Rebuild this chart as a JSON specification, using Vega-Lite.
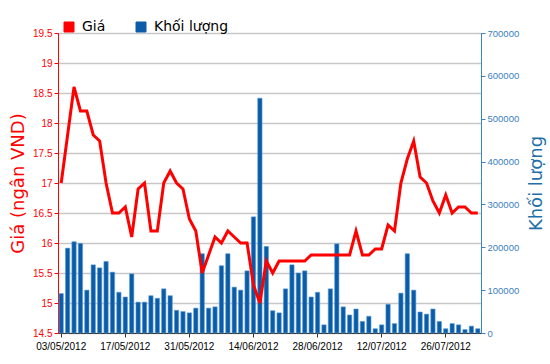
{
  "$schema": "https://vega.github.io/schema/vega-lite/v6.json",
  "width": 423,
  "height": 300,
  "autosize": {"type": "none"},
  "padding": {"left": 58, "top": 33, "right": 69, "bottom": 31},
  "background": "white",
  "config": {"view": {"stroke": "#444", "strokeWidth": 1}, "font": "Liberation Sans"},
  "data": {"values": [
    {"d": "03/05/2012", "p": 17.0, "v": 92000},
    {"d": "04/05/2012", "p": 17.8, "v": 198000},
    {"d": "07/05/2012", "p": 18.6, "v": 213000},
    {"d": "08/05/2012", "p": 18.2, "v": 209000},
    {"d": "09/05/2012", "p": 18.2, "v": 100000},
    {"d": "10/05/2012", "p": 17.8, "v": 159000},
    {"d": "11/05/2012", "p": 17.7, "v": 152000},
    {"d": "14/05/2012", "p": 17.0, "v": 167000},
    {"d": "15/05/2012", "p": 16.5, "v": 142000},
    {"d": "16/05/2012", "p": 16.5, "v": 95000},
    {"d": "17/05/2012", "p": 16.6, "v": 84000},
    {"d": "18/05/2012", "p": 16.1, "v": 138000},
    {"d": "21/05/2012", "p": 16.9, "v": 72000},
    {"d": "22/05/2012", "p": 17.0, "v": 72000},
    {"d": "23/05/2012", "p": 16.2, "v": 87000},
    {"d": "24/05/2012", "p": 16.2, "v": 81000},
    {"d": "25/05/2012", "p": 17.0, "v": 103000},
    {"d": "28/05/2012", "p": 17.2, "v": 87000},
    {"d": "29/05/2012", "p": 17.0, "v": 53000},
    {"d": "30/05/2012", "p": 16.9, "v": 50000},
    {"d": "31/05/2012", "p": 16.4, "v": 47000},
    {"d": "01/06/2012", "p": 16.2, "v": 58000},
    {"d": "04/06/2012", "p": 15.5, "v": 185000},
    {"d": "05/06/2012", "p": 15.8, "v": 58000},
    {"d": "06/06/2012", "p": 16.1, "v": 61000},
    {"d": "07/06/2012", "p": 16.0, "v": 157000},
    {"d": "08/06/2012", "p": 16.2, "v": 185000},
    {"d": "11/06/2012", "p": 16.1, "v": 107000},
    {"d": "12/06/2012", "p": 16.0, "v": 100000},
    {"d": "13/06/2012", "p": 16.0, "v": 145000},
    {"d": "14/06/2012", "p": 15.3, "v": 271000},
    {"d": "15/06/2012", "p": 15.0, "v": 548000},
    {"d": "18/06/2012", "p": 15.7, "v": 202000},
    {"d": "19/06/2012", "p": 15.5, "v": 52000},
    {"d": "20/06/2012", "p": 15.7, "v": 47000},
    {"d": "21/06/2012", "p": 15.7, "v": 103000},
    {"d": "22/06/2012", "p": 15.7, "v": 159000},
    {"d": "25/06/2012", "p": 15.7, "v": 140000},
    {"d": "26/06/2012", "p": 15.7, "v": 145000},
    {"d": "27/06/2012", "p": 15.8, "v": 84000},
    {"d": "28/06/2012", "p": 15.8, "v": 95000},
    {"d": "29/06/2012", "p": 15.8, "v": 19000},
    {"d": "02/07/2012", "p": 15.8, "v": 103000},
    {"d": "03/07/2012", "p": 15.8, "v": 208000},
    {"d": "04/07/2012", "p": 15.8, "v": 61000},
    {"d": "05/07/2012", "p": 15.8, "v": 42000},
    {"d": "06/07/2012", "p": 16.2, "v": 56000},
    {"d": "09/07/2012", "p": 15.8, "v": 27000},
    {"d": "10/07/2012", "p": 15.8, "v": 39000},
    {"d": "11/07/2012", "p": 15.9, "v": 10000},
    {"d": "12/07/2012", "p": 15.9, "v": 19000},
    {"d": "13/07/2012", "p": 16.3, "v": 67000},
    {"d": "16/07/2012", "p": 16.2, "v": 22000},
    {"d": "17/07/2012", "p": 17.0, "v": 93000},
    {"d": "18/07/2012", "p": 17.4, "v": 185000},
    {"d": "19/07/2012", "p": 17.7, "v": 100000},
    {"d": "20/07/2012", "p": 17.1, "v": 49000},
    {"d": "23/07/2012", "p": 17.0, "v": 44000},
    {"d": "24/07/2012", "p": 16.7, "v": 56000},
    {"d": "25/07/2012", "p": 16.5, "v": 27000},
    {"d": "26/07/2012", "p": 16.8, "v": 10000},
    {"d": "27/07/2012", "p": 16.5, "v": 22000},
    {"d": "30/07/2012", "p": 16.6, "v": 19000},
    {"d": "31/07/2012", "p": 16.6, "v": 8000},
    {"d": "01/08/2012", "p": 16.5, "v": 16000},
    {"d": "02/08/2012", "p": 16.5, "v": 10000}
  ]},
  "encoding": {
    "x": {
      "field": "d", "type": "ordinal", "sort": null,
      "scale": {"paddingInner": 0.33, "paddingOuter": 0.165},
      "axis": {
        "title": null,
        "values": ["03/05/2012", "17/05/2012", "31/05/2012", "14/06/2012", "28/06/2012", "12/07/2012", "26/07/2012"],
        "labelAngle": 0, "labelFont": "Liberation Sans", "labelFontSize": 10, "labelColor": "#000",
        "tickColor": "#333", "tickSize": 4, "domainColor": "#333", "labelPadding": 4,
        "grid": false, "labelOverlap": false, "labelBound": false
      }
    }
  },
  "layer": [
    {
      "mark": {"type": "bar", "stroke": "#5b9bd5", "strokeWidth": 0.6},
      "encoding": {
        "y": {
          "field": "v", "type": "quantitative",
          "scale": {"domain": [0, 700000]},
          "axis": {
            "orient": "right", "title": "Khối lượng", "titleAngle": 270,
            "values": [0, 100000, 200000, 300000, 400000, 500000, 600000, 700000],
            "format": "d", "grid": false,
            "labelFont": "Liberation Sans", "labelFontSize": 9.5, "labelColor": "#3a80c0",
            "tickColor": "#3a86c4", "tickSize": 4, "domainColor": "#3a86c4", "labelPadding": 2,
            "titleFont": "DejaVu Sans", "titleFontSize": 18, "titleFontWeight": "normal", "titleColor": "#1f6fa8",
            "titlePadding": 27
          }
        },
        "color": {
          "datum": "Khối lượng", "type": "nominal",
          "scale": {"domain": ["Giá", "Khối lượng"], "range": ["#ff0000", "#0a5ca8"]},
          "legend": {
            "orient": "none", "legendX": 4, "legendY": -13, "direction": "horizontal",
            "title": null, "symbolType": "square", "symbolSize": 100,
            "labelFont": "DejaVu Sans", "labelFontSize": 14, "labelColor": "#000",
            "columnPadding": 28, "labelOffset": 6,
            "symbolStrokeColor": "#222", "symbolStrokeWidth": 1,
            "encode": {"symbols": {"update": {
              "fill": {"scale": "color", "field": "value"},
              "stroke": {"value": "#222"},
              "strokeWidth": {"value": 1},
              "opacity": {"value": 1}
            }}}
          }
        }
      }
    },
    {
      "mark": {"type": "line", "strokeWidth": 3},
      "encoding": {
        "y": {
          "field": "p", "type": "quantitative",
          "scale": {"domain": [14.5, 19.5], "zero": false},
          "axis": {
            "orient": "left", "title": "Giá (ngân VND)",
            "values": [14.5, 15, 15.5, 16, 16.5, 17, 17.5, 18, 18.5, 19, 19.5],
            "format": "~g", "grid": true, "gridColor": "#c8c8c8", "gridWidth": 1.5,
            "labelFont": "Liberation Sans", "labelFontSize": 10, "labelColor": "#ff0000",
            "tickColor": "#ff0000", "tickSize": 4, "domainColor": "#ff0000", "labelPadding": 2,
            "titleFont": "DejaVu Sans", "titleFontSize": 18, "titleFontWeight": "normal", "titleColor": "#ff0000",
            "titlePadding": 5
          }
        },
        "color": {"datum": "Giá", "type": "nominal"}
      }
    }
  ],
  "resolve": {"scale": {"y": "independent"}}
}
